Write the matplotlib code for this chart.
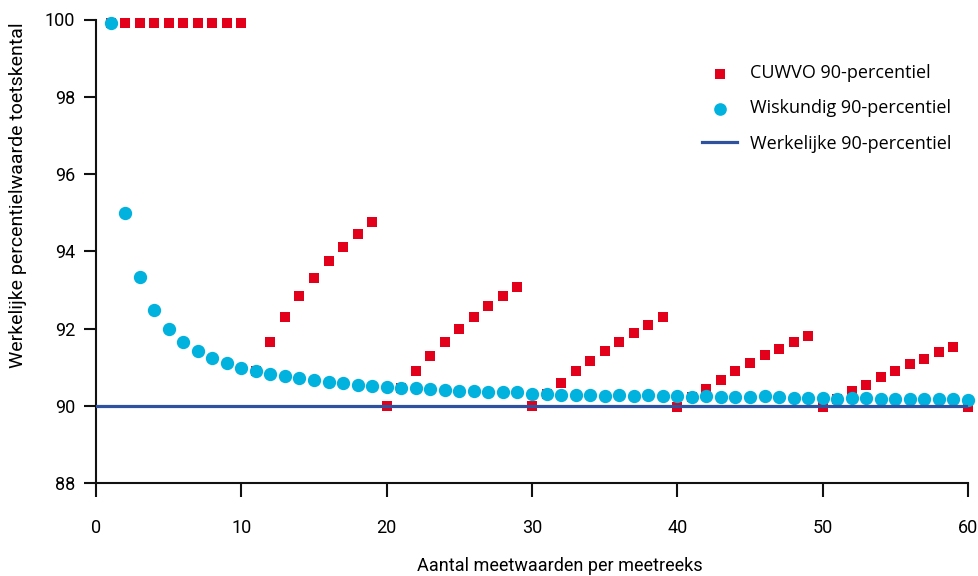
import matplotlib
matplotlib.use("Agg")
import matplotlib.pyplot as plt
from matplotlib import font_manager

# Number of measurements per series
n_values = list(range(1, 61))

# CUWVO 90-percentile estimate per series length
cuwvo = [
    99.9, 99.9, 99.9, 99.9, 99.9, 99.9, 99.9, 99.9, 99.9, 99.9,
    90.89, 91.65, 92.30, 92.85, 93.32, 93.76, 94.10, 94.44, 94.75, 90.0,
    90.46, 90.90, 91.29, 91.65, 91.99, 92.30, 92.59, 92.85, 93.08, 90.0,
    90.30, 90.59, 90.90, 91.16, 91.42, 91.65, 91.89, 92.10, 92.30, 89.97,
    90.23, 90.44, 90.67, 90.90, 91.11, 91.32, 91.47, 91.65, 91.81, 89.98,
    90.17, 90.38, 90.54, 90.75, 90.90, 91.08, 91.21, 91.39, 91.52, 89.97,
]

# Mathematical 90-percentile estimate per series length
wiskundig = [
    99.9, 95.0, 93.33, 92.49, 91.98, 91.64, 91.43, 91.24, 91.10, 90.98,
    90.89, 90.82, 90.76, 90.71, 90.66, 90.61, 90.59, 90.54, 90.52, 90.49,
    90.46, 90.45, 90.43, 90.42, 90.39, 90.39, 90.36, 90.35, 90.35, 90.31,
    90.31, 90.29, 90.29, 90.29, 90.26, 90.27, 90.26, 90.27, 90.24, 90.24,
    90.23, 90.24, 90.23, 90.23, 90.23, 90.24, 90.23, 90.19, 90.19, 90.19,
    90.17, 90.19, 90.19, 90.17, 90.17, 90.17, 90.17, 90.17, 90.17, 90.16,
]

# True 90-percentile
werkelijk = 90.0

x_ticks = [0, 10, 20, 30, 40, 50, 60]
y_ticks = [88, 90, 92, 94, 96, 98, 100]

installed = {f.name for f in font_manager.fontManager.ttflist}
tick_family = ["Liberation Sans Narrow", "DejaVu Sans"] if "Liberation Sans Narrow" in installed else ["Roboto", "DejaVu Sans"]
text_family = ["Open Sans", "DejaVu Sans"]

RED = "#E2001A"
CYAN = "#00B2DD"
BLUE = "#2F52A0"

fig = plt.figure(figsize=(9.79, 5.76), dpi=100)
ax = fig.add_axes([96 / 979, 1 - 483 / 576, (968 - 96) / 979, (483 - 19.5) / 576])

ax.scatter(n_values, cuwvo, marker="s", s=62, color=RED, linewidths=0,
           zorder=2, clip_on=False, label="CUWVO 90-percentiel")
ax.scatter(n_values, wiskundig, marker="o", s=92, color=CYAN, linewidths=0,
           zorder=3, clip_on=False, label="Wiskundig 90-percentiel")
ax.axhline(werkelijk, color=BLUE, linewidth=2.3, zorder=4,
           label="Werkelijke 90-percentiel")

ax.set_xlim(0, 60)
ax.set_ylim(88, 100)
ax.set_xticks(x_ticks)
ax.set_yticks(y_ticks)
ax.set_xticklabels([str(v) for v in x_ticks], family=tick_family, fontsize=13)
ax.set_yticklabels([str(v) for v in y_ticks], family=tick_family, fontsize=13)
ax.tick_params(axis="x", direction="out", length=10, width=1.5, pad=16, color="#111111")
ax.tick_params(axis="y", direction="out", length=9, width=1.5, pad=6, color="#111111")

for side in ("top", "right"):
    ax.spines[side].set_visible(False)
for side in ("left", "bottom"):
    ax.spines[side].set_linewidth(1.5)
    ax.spines[side].set_color("#111111")

fig.text(560 / 979, 1 - 566 / 576, "Aantal meetwaarden per meetreeks",
         ha="center", va="center", family=tick_family, fontsize=13)
fig.text(18 / 979, 1 - 195 / 576, "Werkelijke percentielwaarde toetskental",
         ha="center", va="center", rotation=90, family=tick_family, fontsize=14)

leg = ax.legend(loc="upper left", bbox_to_anchor=(686 / 979, 1 - 48 / 576),
                bbox_transform=fig.transFigure, frameon=False,
                prop={"family": text_family, "size": 13},
                labelspacing=0.95, handlelength=1.95, handletextpad=0.72,
                scatterpoints=1, markerscale=0.95)

fig.savefig("out.png", dpi=100)
